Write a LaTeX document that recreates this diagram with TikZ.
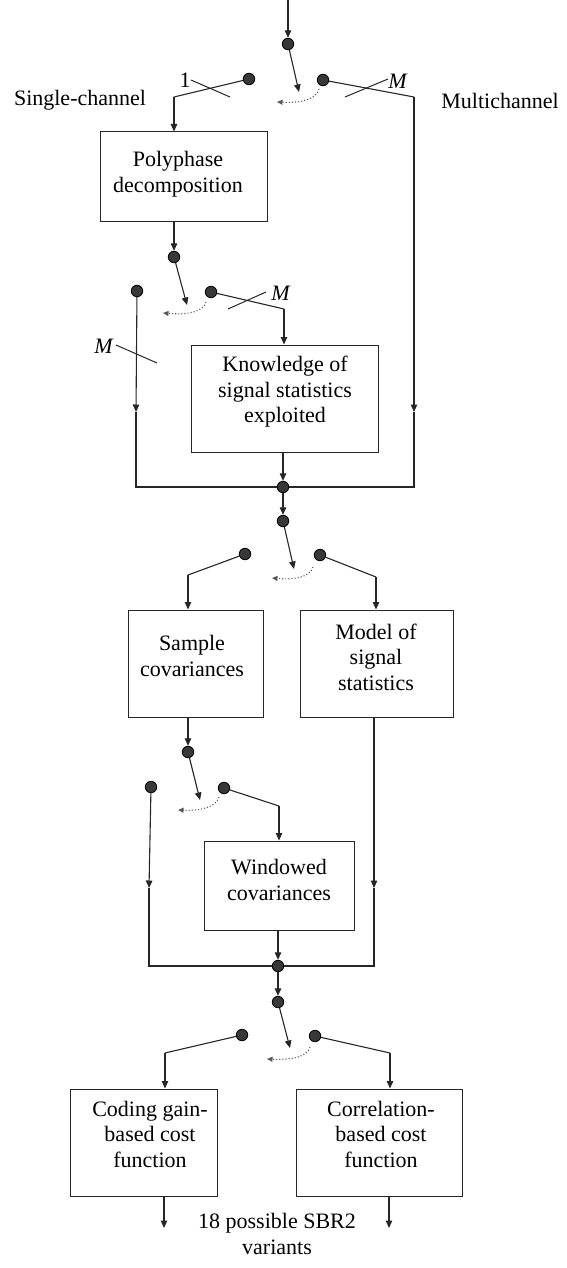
\documentclass[tikz,border=0pt]{standalone}
\usepackage{fontspec}
\setmainfont{Liberation Serif}
\usetikzlibrary{arrows.meta}
\begin{document}
\begin{tikzpicture}[x=1pt,y=-1pt,
  font=\fontsize{22}{25.5}\selectfont,
  wire/.style={line width=1.1pt, draw=black!85},
  flow/.style={wire, -{Triangle[length=7.5pt,width=6.5pt]}},
  dot/.style={circle, draw=black, fill=black!78, line width=0.8pt, minimum size=11.5pt, inner sep=0pt},
  blk/.style={draw=black!85, line width=1pt, inner sep=0pt},
  lbl/.style={align=center, inner sep=0pt},
  toggle/.style={draw=black!65, dotted, line width=1.1pt, -{Triangle[length=5.5pt,width=5pt]}},
  tick/.style={line width=1pt, draw=black!85},
]
\useasboundingbox (0,0) rectangle (566,1268);

% ---------- blocks ----------
\node[blk, minimum width=167pt, minimum height=89pt]  (poly) at (183.5,176.5) {};
\node[blk, minimum width=187pt, minimum height=107pt] (know) at (284.5,398.5) {};
\node[blk, minimum width=135pt, minimum height=107pt] (samp) at (195.5,663.5) {};
\node[blk, minimum width=153pt, minimum height=107pt] (modl) at (376.5,663.5) {};
\node[blk, minimum width=150pt, minimum height=89pt]  (wind) at (279,885.5) {};
\node[blk, minimum width=147pt, minimum height=107pt] (codg) at (143.5,1142.5) {};
\node[blk, minimum width=166pt, minimum height=107pt] (corr) at (379,1142.5) {};

\node[lbl] (polyT) at (178,174) {Polyphase\\decomposition};
\node[lbl] (knowT) at (285,392) {Knowledge of\\signal statistics\\exploited};
\node[lbl] (sampT) at (192,656) {Sample\\covariances};
\node[lbl] (modlT) at (376,657) {Model of\\signal\\statistics};
\node[lbl] (windT) at (279,880) {Windowed\\covariances};
\node[lbl] (codgT) at (150,1134) {Coding gain-\\based cost\\function};
\node[lbl] (corrT) at (381,1134) {Correlation-\\based cost\\function};

\node[lbl] (single) at (80,100) {Single-channel};
\node[lbl] (multi) at (500,101) {Multichannel};
\node[lbl] (result) at (277,1234) {18 possible SBR2\\variants};

% ---------- switch dots ----------
\node[dot] (s1)  at (288,44) {};
\node[dot] (s1L) at (249,79) {};
\node[dot] (s1R) at (323,80) {};
\node[dot] (s2)  at (174,257) {};
\node[dot] (s2L) at (137,291) {};
\node[dot] (s2R) at (211,292) {};
\node[dot] (j1)  at (283,487) {};
\node[dot] (s3)  at (283,521) {};
\node[dot] (s3L) at (245,554) {};
\node[dot] (s3R) at (320,555) {};
\node[dot] (s4)  at (188,752) {};
\node[dot] (s4L) at (151,787) {};
\node[dot] (s4R) at (224,788) {};
\node[dot] (j2)  at (278,966) {};
\node[dot] (s5)  at (278,1002) {};
\node[dot] (s5L) at (242,1035) {};
\node[dot] (s5R) at (315,1036) {};

% ---------- helper points ----------
\coordinate (in)  at (288,0);
\coordinate (a1)  at (299,92);
\coordinate (a2)  at (187,305);
\coordinate (a3)  at (294,569);
\coordinate (a4)  at (200,800);
\coordinate (a5)  at (290,1048);

\coordinate (k1)  at (174,97);
\coordinate (k2)  at (414,97);
\coordinate (m2)  at (414,412);
\coordinate (b2)  at (414,487);
\coordinate (k3)  at (284,309);
\coordinate (m3)  at (136,412);
\coordinate (b3)  at (136,487);
\coordinate (k4)  at (188,575);
\coordinate (k5)  at (376,577);
\coordinate (k6)  at (279,806);
\coordinate (m6)  at (149,888);
\coordinate (b6)  at (149,966);
\coordinate (m7)  at (374,888);
\coordinate (b7)  at (374,966);
\coordinate (k8)  at (165,1053);
\coordinate (k9)  at (390,1053);
\coordinate (o1)  at (164,1228);
\coordinate (o2)  at (389,1228);

% ---------- stage 1: single / multichannel ----------
\draw[flow] (in) -- (s1);
\draw[flow] (s1) -- (a1);
\draw[toggle] (319,89) .. controls (316,100) and (300,103) .. (277,102);
\draw[wire] (s1L) -- (k1);
\draw[flow] (k1) -- (k1 |- poly.north);
\draw[wire] (s1R) -- (k2);
\draw[flow] (k2) -- (m2);
\draw[wire] (m2) -- (b2) -- (j1);

% ---------- stage 2: statistics exploited ----------
\draw[flow] (poly.south -| s2) -- (s2);
\draw[flow] (s2) -- (a2);
\draw[toggle] (206,302) .. controls (203,312) and (188,315) .. (163,313);
\draw[wire] (s2R) -- (k3);
\draw[flow] (k3) -- (k3 |- know.north);
\draw[flow] (s2L) -- (m3);
\draw[wire] (m3) -- (b3) -- (j1);
\draw[flow] (know.south -| j1) -- (j1);
\draw[flow] (j1) -- (s3);

% ---------- stage 3: sample / model ----------
\draw[flow] (s3) -- (a3);
\draw[toggle] (313,567) .. controls (310,577) and (295,580) .. (272,578);
\draw[wire] (s3L) -- (k4);
\draw[flow] (k4) -- (k4 |- samp.north);
\draw[wire] (s3R) -- (k5);
\draw[flow] (k5) -- (k5 |- modl.north);

% ---------- stage 4: windowing ----------
\draw[flow] (samp.south -| s4) -- (s4);
\draw[flow] (s4) -- (a4);
\draw[toggle] (219,797) .. controls (216,807) and (201,811) .. (178,810);
\draw[wire] (s4R) -- (k6);
\draw[flow] (k6) -- (k6 |- wind.north);
\draw[flow] (s4L) -- (m6);
\draw[wire] (m6) -- (b6) -- (j2);
\draw[flow] (modl.south -| m7) -- (m7);
\draw[wire] (m7) -- (b7) -- (j2);
\draw[flow] (wind.south -| j2) -- (j2);
\draw[flow] (j2) -- (s5);

% ---------- stage 5: cost function ----------
\draw[flow] (s5) -- (a5);
\draw[toggle] (310,1047) .. controls (307,1057) and (292,1060) .. (267,1059);
\draw[wire] (s5L) -- (k8);
\draw[flow] (k8) -- (k8 |- codg.north);
\draw[wire] (s5R) -- (k9);
\draw[flow] (k9) -- (k9 |- corr.north);
\draw[flow] (codg.south -| o1) -- (o1);
\draw[flow] (corr.south -| o2) -- (o2);

% ---------- channel-count ticks ----------
\draw[tick] (191,80) -- (230,97);
\node[lbl] (n1) at (185,80) {1};
\draw[tick] (345,97) -- (388,79);
\node[lbl] (nM1) at (398,81) {\textit{M}};
\draw[tick] (228,309) -- (266,292);
\node[lbl] (nM2) at (281,293) {\textit{M}};
\draw[tick] (116,345) -- (157,363);
\node[lbl] (nM3) at (104,346) {\textit{M}};
\end{tikzpicture}
\end{document}
